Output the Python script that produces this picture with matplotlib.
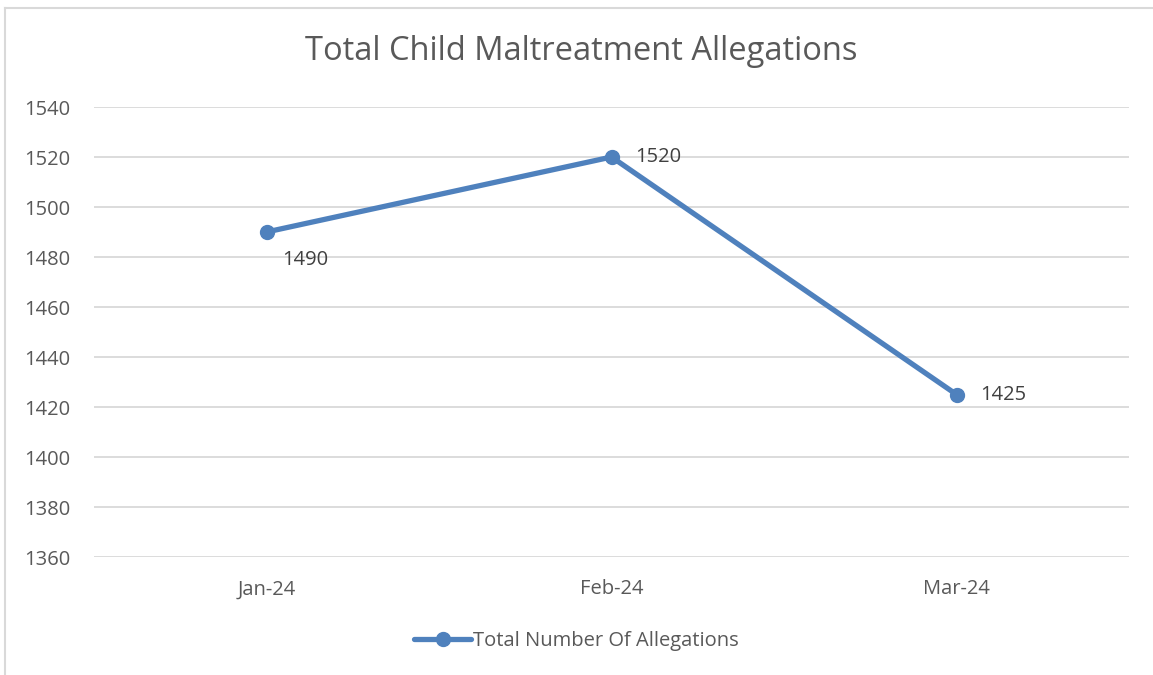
import matplotlib.pyplot as plt
from matplotlib.lines import Line2D

# data
months = ["Jan-24", "Feb-24", "Mar-24"]
allegations = [1490, 1520, 1425]
series_name = "Total Number Of Allegations"
y_ticks = [1360, 1380, 1400, 1420, 1440, 1460, 1480, 1500, 1520, 1540]

plt.rcParams['font.family'] = ['Open Sans', 'DejaVu Sans']
text_col = "#595959"
line_col = "#4F81BD"

fig = plt.figure(figsize=(11.53, 6.75), dpi=100)
ax = fig.add_axes([94/1153, 1-557/675, (1129-94)/1153, (557-107)/675])

x = list(range(len(months)))
ax.plot(x, allegations, color=line_col, lw=3.8, marker='o', markersize=10,
        solid_capstyle='round', label=series_name, zorder=3)

# data labels (offsets in points)
offsets = [(11, -20), (17, 0), (17, 0)]
for xi, v, off in zip(x, allegations, offsets):
    ax.annotate(str(v), (xi, v), xytext=off, textcoords='offset points',
                ha='left', va='center', fontsize=14.5, color="#404040")

ax.set_xlim(-0.5, 2.5)
ax.set_ylim(1360, 1540)
ax.set_yticks(y_ticks)
ax.set_xticks(x)
ax.set_xticklabels(months)
ax.grid(axis='y', color='#D9D9D9', lw=1.3)
ax.set_axisbelow(True)
for s in ax.spines.values():
    s.set_visible(False)
ax.tick_params(length=0, labelsize=14.5, colors=text_col)
ax.tick_params(axis='x', pad=16)
ax.tick_params(axis='y', pad=17)

fig.text(581/1153, 1-52/675, "Total Child Maltreatment Allegations",
         ha='center', va='center', fontsize=23.5, color=text_col)

fig.legend(loc='center', bbox_to_anchor=(0.5, 1-641/675), frameon=False,
           fontsize=14.5, labelcolor=text_col, handlelength=2.8, handletextpad=0.1)

# chart border (left and top visible)
fig.add_artist(Line2D([5/1153, 5/1153], [0, 1-8/675], color='#D9D9D9', lw=1.5))
fig.add_artist(Line2D([5/1153, 1], [1-8/675, 1-8/675], color='#D9D9D9', lw=1.5))

plt.savefig("out.png", dpi=100)
